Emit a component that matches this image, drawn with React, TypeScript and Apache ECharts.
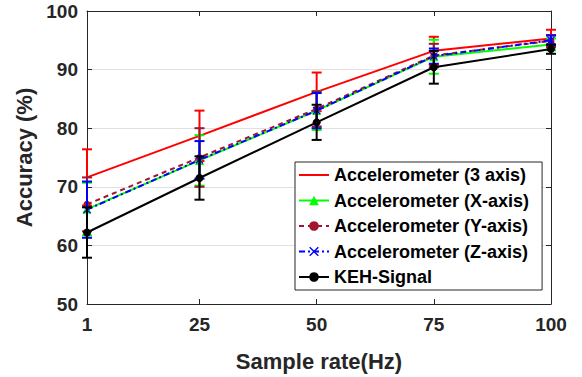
import React, { useEffect, useRef } from "react";
import * as echarts from "echarts";

const sampleRates = [1, 25, 50, 75, 100];
const xTicks = [1, 25, 50, 75, 100];

const acc3 = [71.6, 78.7, 86.2, 93.2, 95.3];
const acc3Err = [4.8, 4.3, 3.3, 2.4, 1.5];
const accX = [66.2, 74.5, 83.0, 92.2, 94.3];
const accXErr = [4.5, 4.3, 3.3, 2.9, 1.0];
const accY = [67.0, 75.0, 83.3, 92.4, 94.9];
const accYErr = [4.6, 5.0, 3.0, 2.0, 1.0];
const accZ = [66.1, 74.6, 83.0, 92.3, 95.0];
const accZErr = [4.8, 3.2, 3.0, 1.3, 0.8];
const keh = [62.2, 71.5, 81.0, 90.4, 93.5];
const kehErr = [4.3, 3.7, 3.0, 2.8, 0.8];

const names = [
  "Accelerometer (3 axis)",
  "Accelerometer (X-axis)",
  "Accelerometer (Y-axis)",
  "Accelerometer (Z-axis)",
  "KEH-Signal",
];

const FONT = "'Liberation Sans', Arial, Helvetica, sans-serif";
const AXIS_COLOR = "#262626";
const XMARK = "path://M1,0L5,4L9,0L10,1L6,5L10,9L9,10L5,6L1,10L0,9L4,5L0,1Z";

export default function App() {
  const ref = useRef<HTMLDivElement>(null);

  useEffect(() => {
    if (!ref.current) return;
    const chart = echarts.init(ref.current, null, { renderer: "svg" });

    const errSeries = (vals: number[], errs: number[], color: string, z: number) => ({
      type: "custom",
      silent: true,
      z,
      encode: { x: 0, y: 1 },
      data: sampleRates.map((x, i) => [x, vals[i], errs[i]]),
      renderItem: (_p: any, api: any) => {
        const x = api.value(0);
        const y = api.value(1);
        const e = api.value(2);
        const top = api.coord([x, y + e]);
        const bot = api.coord([x, y - e]);
        const w = 5;
        const st = { stroke: color, lineWidth: 2 };
        return {
          type: "group",
          children: [
            { type: "line", shape: { x1: top[0], y1: top[1], x2: bot[0], y2: bot[1] }, style: st },
            { type: "line", shape: { x1: top[0] - w, y1: top[1], x2: top[0] + w, y2: top[1] }, style: st },
            { type: "line", shape: { x1: bot[0] - w, y1: bot[1], x2: bot[0] + w, y2: bot[1] }, style: st },
          ],
        };
      },
    });

    const lineSeries = (
      name: string,
      vals: number[],
      color: string,
      symbol: string,
      symbolSize: number,
      lineType: any,
      z: number
    ) => ({
      type: "line",
      name,
      z,
      data: sampleRates.map((x, i) => [x, vals[i]]),
      symbol,
      symbolSize,
      showSymbol: symbol !== "none",
      lineStyle: { color, width: 2, type: lineType },
      itemStyle: { color, borderColor: color, borderWidth: 0 },
      emphasis: { disabled: true },
    });

    const option: any = {
      animation: false,
      backgroundColor: "#ffffff",
      grid: { left: 87, right: 31, top: 11, bottom: 71, containLabel: false },
      legend: {
        orient: "vertical",
        left: 295,
        top: 162,
        data: [
          { name: names[0], itemStyle: { opacity: 0 } },
          names[1],
          names[2],
          names[3],
          names[4],
        ],
        itemWidth: 30,
        itemHeight: 12,
        itemGap: 7.5,
        padding: [4, 13, 4, 3],
        backgroundColor: "#ffffff",
        borderColor: AXIS_COLOR,
        borderWidth: 1,
        borderRadius: 0,
        selectedMode: false,
        textStyle: { fontFamily: FONT, fontSize: 18, fontWeight: "bold", color: "#000" },
      },
      xAxis: [
        {
          type: "value",
          min: 1,
          max: 100,
          name: "Sample rate(Hz)",
          nameLocation: "middle",
          nameGap: 46,
          nameTextStyle: { fontFamily: FONT, fontSize: 22, fontWeight: "bold", color: AXIS_COLOR },
          axisLine: { show: true, onZero: false, lineStyle: { color: AXIS_COLOR, width: 1 } },
          axisTick: { show: true, inside: true, length: 5, customValues: xTicks, lineStyle: { color: AXIS_COLOR } },
          axisLabel: {
            customValues: xTicks,
            margin: 11,
            fontFamily: FONT,
            fontSize: 19,
            fontWeight: "bold",
            color: AXIS_COLOR,
          },
          splitLine: { show: false },
        },
        {
          type: "value",
          position: "top",
          min: 1,
          max: 100,
          axisLine: { show: true, onZero: false, lineStyle: { color: AXIS_COLOR, width: 1 } },
          axisTick: { show: true, inside: true, length: 5, customValues: xTicks, lineStyle: { color: AXIS_COLOR } },
          axisLabel: { show: false },
          splitLine: { show: false },
        },
      ],
      yAxis: [
        {
          type: "value",
          min: 50,
          max: 100,
          interval: 10,
          name: "Accuracy (%)",
          nameLocation: "middle",
          nameGap: 51,
          nameTextStyle: { fontFamily: FONT, fontSize: 22, fontWeight: "bold", color: AXIS_COLOR },
          axisLine: { show: true, onZero: false, lineStyle: { color: AXIS_COLOR, width: 1 } },
          axisTick: { show: true, inside: true, length: 5, lineStyle: { color: AXIS_COLOR } },
          axisLabel: { margin: 9, fontFamily: FONT, fontSize: 19, fontWeight: "bold", color: AXIS_COLOR },
          splitLine: { show: true, lineStyle: { color: "#e0e0e0", width: 1 } },
        },
        {
          type: "value",
          position: "right",
          min: 50,
          max: 100,
          interval: 10,
          axisLine: { show: true, onZero: false, lineStyle: { color: AXIS_COLOR, width: 1 } },
          axisTick: { show: true, inside: true, length: 5, lineStyle: { color: AXIS_COLOR } },
          axisLabel: { show: false },
          splitLine: { show: false },
        },
      ],
      series: [
        errSeries(acc3, acc3Err, "#ff0000", 3),
        lineSeries(names[0], acc3, "#ff0000", "none", 0, "solid", 3),
        errSeries(accX, accXErr, "#00ff00", 4),
        lineSeries(names[1], accX, "#00ff00", "triangle", 9, "solid", 4),
        errSeries(accY, accYErr, "#a2142f", 5),
        lineSeries(names[2], accY, "#a2142f", "circle", 7, [5, 4], 5),
        errSeries(accZ, accZErr, "#0000ff", 6),
        lineSeries(names[3], accZ, "#0000ff", XMARK, 8, [6, 3, 2, 3], 6),
        errSeries(keh, kehErr, "#000000", 7),
        lineSeries(names[4], keh, "#000000", "circle", 8, "solid", 7),
      ],
    };

    chart.setOption(option);
    return () => chart.dispose();
  }, []);

  return (
    <div
      ref={ref}
      style={{ position: "absolute", left: 0, top: 0, width: 582, height: 377, background: "#fff" }}
    />
  );
}
